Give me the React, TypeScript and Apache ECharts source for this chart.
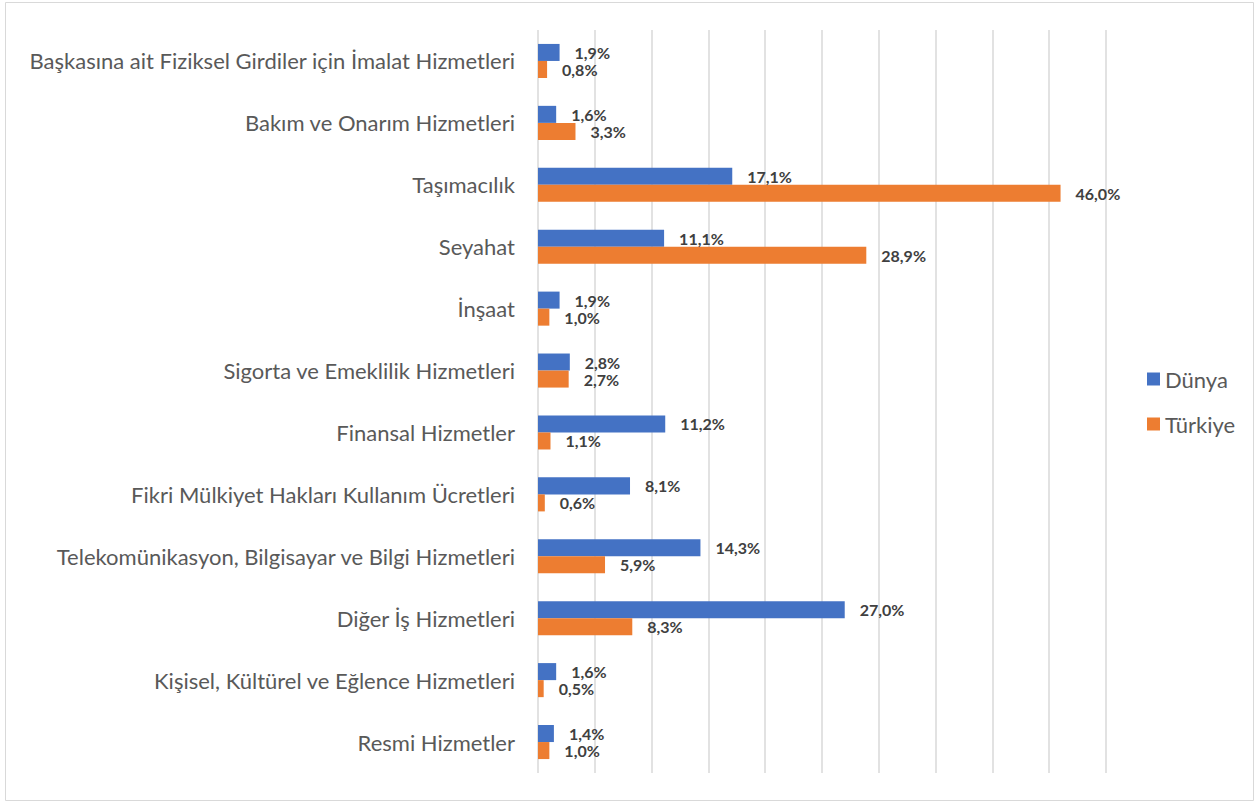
import React, { useEffect, useRef } from "react";
import * as echarts from "echarts";

const categories = [
  "Başkasına ait Fiziksel Girdiler için İmalat Hizmetleri",
  "Bakım ve Onarım Hizmetleri",
  "Taşımacılık",
  "Seyahat",
  "İnşaat",
  "Sigorta ve Emeklilik Hizmetleri",
  "Finansal Hizmetler",
  "Fikri Mülkiyet Hakları Kullanım Ücretleri",
  "Telekomünikasyon, Bilgisayar ve Bilgi Hizmetleri",
  "Diğer İş Hizmetleri",
  "Kişisel, Kültürel ve Eğlence Hizmetleri",
  "Resmi Hizmetler",
];

const dunya = [1.9, 1.6, 17.1, 11.1, 1.9, 2.8, 11.2, 8.1, 14.3, 27.0, 1.6, 1.4];
const turkiye = [0.8, 3.3, 46.0, 28.9, 1.0, 2.7, 1.1, 0.6, 5.9, 8.3, 0.5, 1.0];

const seriesNames = ["Dünya", "Türkiye"];
const colors = ["#4472C4", "#ED7D31"];

const FONT = "Lato";

const fmt = (v: number) => v.toFixed(1).replace(".", ",") + "%";

export default function App() {
  const ref = useRef<HTMLDivElement>(null);
  useEffect(() => {
    if (!ref.current) return;
    const chart = echarts.init(ref.current, undefined, { renderer: "svg" });
    const label = {
      show: true,
      position: "right" as const,
      distance: 15,
      fontFamily: FONT,
      fontWeight: "bold" as const,
      fontSize: 16,
      lineHeight: 15,
      color: "#404040",
      formatter: (p: any) => fmt(p.value),
    };
    chart.setOption({
      animation: false,
      backgroundColor: "#ffffff",
      graphic: [
        {
          type: "rect",
          shape: { x: 5.5, y: 2.5, width: 1248, height: 798 },
          style: { fill: "none", stroke: "#d9d9d9", lineWidth: 1 },
          silent: true,
        },
      ],
      grid: { left: 538, right: 153, top: 30, bottom: 30, containLabel: false },
      legend: {
        orient: "vertical",
        left: 1147,
        top: 368,
        padding: 0,
        itemWidth: 13,
        itemHeight: 13,
        itemGap: 23,
        icon: "rect",
        textStyle: { fontFamily: FONT, fontSize: 22, color: "#595959", lineHeight: 22 },
        data: seriesNames,
      },
      xAxis: {
        type: "value",
        min: 0,
        max: 50,
        interval: 5,
        axisLabel: { show: false },
        axisLine: { show: false },
        axisTick: { show: false },
        splitLine: { show: true, lineStyle: { color: "#d9d9d9", width: 1.5 } },
      },
      yAxis: {
        type: "category",
        inverse: true,
        data: categories,
        axisLine: { show: false },
        axisTick: { show: false },
        axisLabel: {
          margin: 23,
          fontFamily: FONT,
          fontSize: 22,
          color: "#595959",
        },
      },
      series: [
        {
          name: seriesNames[0],
          type: "bar",
          data: dunya,
          itemStyle: { color: colors[0] },
          barGap: "0%",
          barCategoryGap: "45%",
          label,
        },
        {
          name: seriesNames[1],
          type: "bar",
          data: turkiye,
          itemStyle: { color: colors[1] },
          barGap: "0%",
          barCategoryGap: "45%",
          label,
        },
      ],
    });
    return () => chart.dispose();
  }, []);
  return (
    <div
      ref={ref}
      style={{ position: "fixed", left: 0, top: 0, width: 1259, height: 803 }}
    />
  );
}
